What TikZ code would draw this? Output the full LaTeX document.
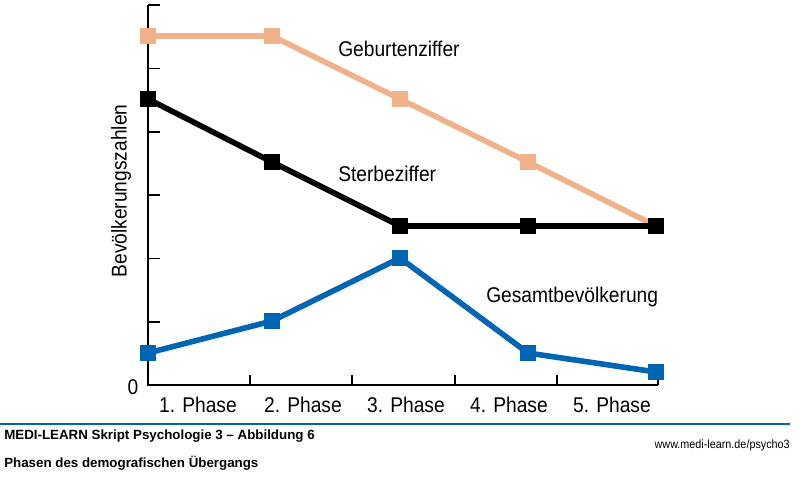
\documentclass[tikz,border=0pt]{standalone}
\usepackage{fontspec}
\setmainfont{Liberation Sans}
\newfontfamily\schmal{Liberation Sans}[FakeStretch=0.9]
\definecolor{geburt}{RGB}{240,178,138}
\definecolor{gesamt}{RGB}{0,101,179}
\tikzset{
  achse/.style = {line width=1.5pt},
  strich/.style = {line width=1.2pt},
  kurve/.style = {line width=4.2pt},
  punkt/.style = {rectangle, inner sep=0pt, minimum size=12.5pt},
  beschrift/.style = {font=\schmal\fontsize{16}{18}\selectfont, inner sep=0pt},
  fuss/.style = {font=\bfseries\fontsize{10}{12}\selectfont, inner sep=0pt, anchor=base west}
}
\begin{document}
\begin{tikzpicture}[x=0.75pt, y=-0.75pt]
\useasboundingbox (0,0) rectangle (799,479);
% Achsen
\coordinate (ytop) at (148,5);
\coordinate (ursprung) at (148,385);
\coordinate (xend) at (658,385);
\draw[achse] (ytop) -- (ursprung) -- (xend);
\foreach \y in {5,68.3,131.7,195,258.3,321.7}
  \draw[strich] (148,\y) -- ++(12,0);
\foreach \x in {250,352,455,557,658}
  \draw[strich] (\x,385) -- ++(0,-10);
\node[beschrift, anchor=base] (null) at (133,394) {0};
\node[beschrift, rotate=90] (ylabel) at (121,191) {Bevölkerungszahlen};
\foreach \x/\n in {198/1,303/2,406/3,509/4,612/5}
  \node[beschrift, anchor=base] (phase\n) at (\x,412) {\n. Phase};
% Geburtenziffer
\node[punkt, fill=geburt] (g1) at (148,36) {};
\node[punkt, fill=geburt] (g2) at (272,36) {};
\node[punkt, fill=geburt] (g3) at (400,99) {};
\node[punkt, fill=geburt] (g4) at (528,162) {};
\node[punkt, fill=geburt] (g5) at (656,226) {};
\draw[kurve, geburt] (g1.center) -- (g2.center) -- (g3.center) -- (g4.center) -- (g5.center);
% Sterbeziffer
\node[punkt, fill=black] (s1) at (148,99) {};
\node[punkt, fill=black] (s2) at (272,162) {};
\node[punkt, fill=black] (s3) at (400,226) {};
\node[punkt, fill=black] (s4) at (528,226) {};
\node[punkt, fill=black] (s5) at (656,226) {};
\draw[kurve, black] (s1.center) -- (s2.center) -- (s3.center) -- (s4.center) -- (s5.center);
% Gesamtbevoelkerung
\node[punkt, fill=gesamt] (b1) at (148,353) {};
\node[punkt, fill=gesamt] (b2) at (272,321) {};
\node[punkt, fill=gesamt] (b3) at (400,258) {};
\node[punkt, fill=gesamt] (b4) at (528,353) {};
\node[punkt, fill=gesamt] (b5) at (656,372) {};
\draw[kurve, gesamt] (b1.center) -- (b2.center) -- (b3.center) -- (b4.center) -- (b5.center);
% Beschriftung
\node[beschrift, anchor=base west] (lgeburt) at (338,56) {Geburtenziffer};
\node[beschrift, anchor=base west] (lsterbe) at (338,181) {Sterbeziffer};
\node[beschrift, anchor=base west] (lgesamt) at (486,302) {Gesamtbevölkerung};
% Fusszeile
\draw[line width=1.2pt, gesamt] (0,424) -- (790,424);
\node[fuss] (titel) at (4,439) {MEDI-LEARN Skript Psychologie 3 – Abbildung 6};
\node[fuss] (untertitel) at (4,467) {Phasen des demografischen Übergangs};
\node[font=\schmal\fontsize{9}{11}\selectfont, inner sep=0pt, anchor=base east] (web) at (790,448) {www.medi-learn.de/psycho3};
\end{tikzpicture}
\end{document}
